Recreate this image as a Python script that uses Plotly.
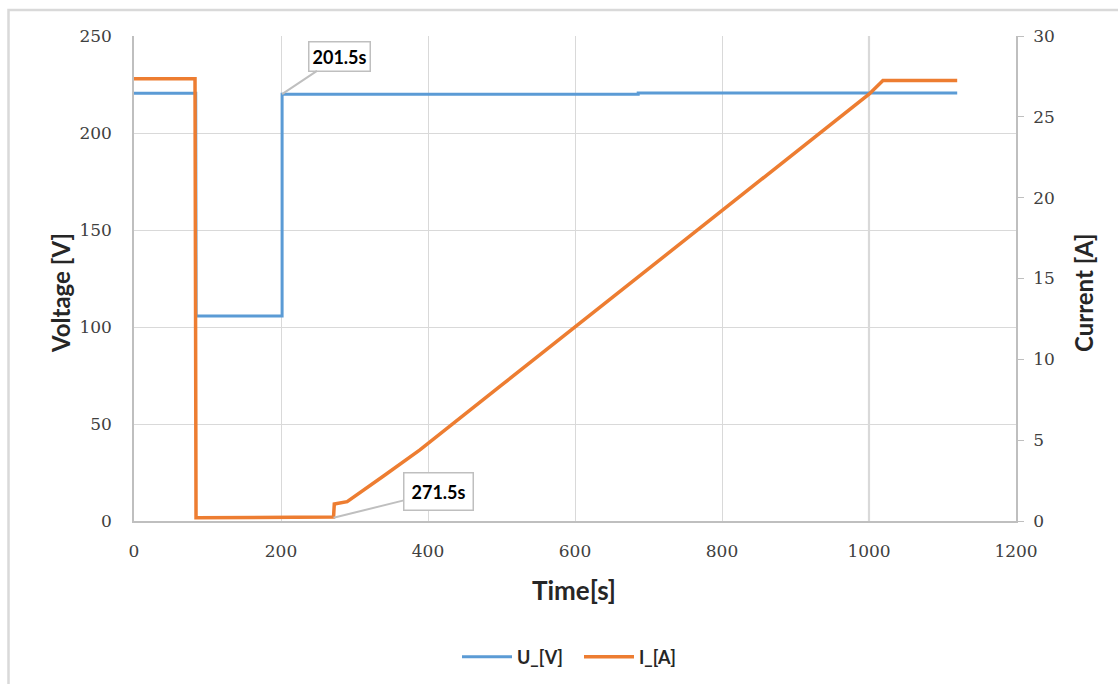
import plotly.graph_objects as go

# ---- data ----
time_u = [0, 84, 84.5, 201.5, 201.5, 686, 686, 1120]
voltage = [220.5, 220.5, 105.7, 105.7, 220.0, 220.0, 220.6, 220.6]

time_i = [0, 83, 84.4, 85, 200, 271.5, 272.5, 290, 340, 389, 500, 600, 700,
          800, 900, 1000, 1019, 1120]
current = [27.35, 27.35, 0.2, 0.2, 0.25, 0.25, 1.05, 1.2, 2.8, 4.4, 8.4, 12.0,
           15.6, 19.2, 22.8, 26.4, 27.25, 27.25]

x_ticks = [0, 200, 400, 600, 800, 1000, 1200]
v_ticks = [0, 50, 100, 150, 200, 250]
i_ticks = [0, 5, 10, 15, 20, 25, 30]

callouts = [("201.5s", 201.5, 220.0, "y", 57, -38, 3),
            ("271.5s", 271.5, 0.2, "y2", 105, -26, 7)]

BLUE = "#5b9bd5"
ORANGE = "#ed7d31"
GRID = "#d9d9d9"
AXIS = "#bfbfbf"
FONT = "Lato"
TICKFONT = "DejaVu Serif"

fig = go.Figure()
fig.add_trace(go.Scatter(x=time_u, y=voltage, mode="lines", name="<b>U_[V]</b>",
                         line=dict(color=BLUE, width=3), yaxis="y"))
fig.add_trace(go.Scatter(x=time_i, y=current, mode="lines", name="<b>I_[A]</b>",
                         line=dict(color=ORANGE, width=3.5), yaxis="y2"))

L, R, T, B = 134, 102, 36, 163
W, H = 1118, 684
pw, ph = W - L - R, H - T - B


def px(xp):
    return (xp - L) / pw


def py(yp):
    return (H - B - yp) / ph


tickfont = dict(family=TICKFONT, size=17, color="#404040")

fig.update_layout(
    width=W, height=H,
    margin=dict(l=L, r=R, t=T, b=B, autoexpand=False),
    paper_bgcolor="white", plot_bgcolor="white",
    font=dict(family=FONT, color="#404040"),
    xaxis=dict(range=[0, 1200], tickvals=x_ticks, showgrid=True, gridcolor=GRID,
               gridwidth=1, showline=True, linecolor=AXIS, linewidth=1.5,
               zeroline=False, ticks="", tickfont=tickfont, ticklabelstandoff=14),
    yaxis=dict(range=[0, 250], tickvals=v_ticks, showgrid=True, gridcolor=GRID,
               gridwidth=1, showline=True, linecolor=AXIS, linewidth=1.5,
               zeroline=False, ticks="", tickfont=tickfont, ticklabelstandoff=17),
    yaxis2=dict(range=[0, 30], tickvals=i_ticks, overlaying="y", side="right",
                showgrid=False, showline=True, linecolor=AXIS, linewidth=1.5,
                zeroline=False, ticks="outside", ticklen=6, tickcolor=AXIS,
                tickfont=tickfont, ticklabelstandoff=6),
    showlegend=True,
    legend=dict(orientation="h", xref="container", yref="container",
                x=579 / W, y=1 - 657 / H, xanchor="center",
                yanchor="middle", font=dict(family=FONT, size=18, color="#262626"),
                traceorder="normal", itemwidth=50, entrywidth=57),
)

# thicker vertical line at x=1000 as in reference
fig.add_shape(type="line", x0=1000, x1=1000, y0=0, y1=1, xref="x", yref="paper",
              line=dict(color=GRID, width=2.2), layer="below")

# outer chart border
fig.add_shape(type="rect", xref="paper", yref="paper",
              x0=px(8.5), x1=px(1130), y0=py(10), y1=py(700),
              line=dict(color=GRID, width=2.5), fillcolor="rgba(0,0,0,0)")

# axis titles
title_font = dict(family=FONT, size=24, color="#262626")
fig.add_annotation(text="<b>Voltage [V]</b>", xref="paper", yref="paper",
                   x=px(60), y=py(293), textangle=-90, showarrow=False,
                   xanchor="center", yanchor="middle", font=title_font)
fig.add_annotation(text="<b>Current [A]</b>", xref="paper", yref="paper",
                   x=px(1083), y=py(293), textangle=-90, showarrow=False,
                   xanchor="center", yanchor="middle", font=title_font)
fig.add_annotation(text="<b>Time[s]</b>", xref="paper", yref="paper",
                   x=px(574), y=py(590), showarrow=False,
                   xanchor="center", yanchor="middle",
                   font=dict(family=FONT, size=26, color="#262626"))

# callouts
for text, xv, yv, yref, ax, ay, pad in callouts:
    fig.add_annotation(text="<b>" + text + "</b>", x=xv, y=yv, xref="x", yref=yref,
                       showarrow=True, arrowhead=0, arrowwidth=2, arrowcolor=AXIS,
                       ax=ax, ay=ay, bgcolor="white", bordercolor=AXIS,
                       borderwidth=1.5, borderpad=pad,
                       font=dict(family=FONT, size=18, color="black"))

fig.write_html("out.html")
